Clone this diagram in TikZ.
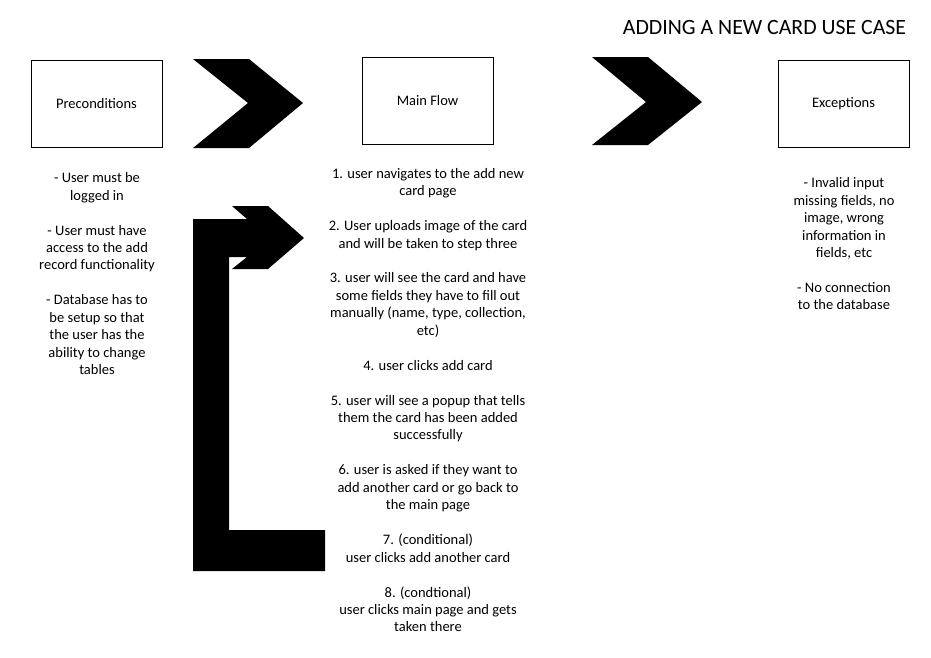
\documentclass[tikz,border=0pt]{standalone}
\usepackage{fontspec}
\setmainfont{Carlito}
\begin{document}
\begin{tikzpicture}[x=1pt,y=-1pt,
  box/.style={draw, line width=1pt, minimum width=131pt, minimum height=87pt, inner sep=0pt, font=\fontsize{14.5}{17.45}\selectfont},
  txt/.style={align=center, anchor=north, inner sep=0pt, font=\fontsize{14.5}{17.45}\selectfont},
  bigarrow/.style={fill=black}]
\useasboundingbox (0,0) rectangle (931,657);
\fill[white] (0,0) rectangle (931,657);

\node[font=\fontsize{21.8}{26}\selectfont, anchor=base, inner sep=0pt] (title) at (764.5,34) {ADDING A NEW CARD USE CASE};

\node[box] (pre) at (96.5,103.5) {Preconditions};
\node[box] (main) at (427.5,101) {Main Flow};
\node[box] (exc) at (843.5,103.5) {Exceptions};

% chevrons
\fill[bigarrow] (193,59) -- (249,59) -- (303,103) -- (249,148) -- (193,148) -- (248,103) -- cycle;
\fill[bigarrow] (592,57) -- (648,57) -- (702,102) -- (648,145) -- (592,145) -- (646,102) -- cycle;

% bent arrow
\fill[bigarrow] (193,571) -- (193,219) -- (247,219) -- (232,206) -- (268,206) -- (304,238) -- (268,269) -- (232,269) -- (247,257) -- (229,257) -- (229,530) -- (325,530) -- (325,571) -- cycle;

\node[txt] (pretxt) at (97,169.5) {\rule{0pt}{13pt}- User must be\\logged in\\[17.45pt]- User must have\\access to the add\\record functionality\\[17.45pt]- Database has to\\be setup so that\\the user has the\\ability to change\\tables};

\node[txt] (maintxt) at (428,165) {\rule{0pt}{13pt}1. user navigates to the add new\\card page\\[17.45pt]2. User uploads image of the card\\and will be taken to step three\\[17.45pt]3. user will see the card and have\\some fields they have to fill out\\manually (name, type, collection,\\etc)\\[17.45pt]4. user clicks add card\\[17.45pt]5. user will see a popup that tells\\them the card has been added\\successfully\\[17.45pt]6. user is asked if they want to\\add another card or go back to\\the main page\\[17.45pt]7. (conditional)\\user clicks add another card\\[17.45pt]8. (condtional)\\user clicks main page and gets\\taken there};

\node[txt] (exctxt) at (844,174.5) {\rule{0pt}{13pt}- Invalid input\\missing fields, no\\image, wrong\\information in\\fields, etc\\[17.45pt]- No connection\\to the database};
\end{tikzpicture}
\end{document}
